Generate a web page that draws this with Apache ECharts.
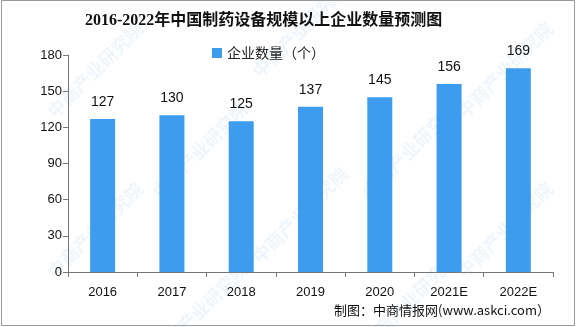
<!DOCTYPE html>
<html>
<head>
<meta charset="utf-8">
<script src="https://cdn.jsdelivr.net/npm/echarts@6/dist/echarts.min.js"></script>
<style>
  html, body { margin: 0; padding: 0; background: #fff; }
  #chart { width: 576px; height: 327px; }
</style>
</head>
<body>
<div id="chart"></div>
<script>
// Number of pharmaceutical-equipment enterprises above designated size, 2016-2022E
const categories = ['2016', '2017', '2018', '2019', '2020', '2021E', '2022E'];
const enterpriseCounts = [127, 130, 125, 137, 145, 156, 169];
const yTicks = [0, 30, 60, 90, 120, 150, 180];

const seriesName = '企业数量（个）';
const titleText = '2016-2022年中国制药设备规模以上企业数量预测图';
const sourceText = '制图：中商情报网(www.askci.com）';
const watermarkText = '中商产业研究院';

// faint diagonal watermark tiles
const watermarkSpots = [
  [95, 70], [300, 30], [505, 70], [200, 150], [410, 150],
  [95, 230], [300, 215], [505, 230], [200, 310], [410, 300]
];
const watermarks = watermarkSpots.map(([x, y]) => ({
  type: 'text',
  x: x, y: y,
  rotation: Math.PI / 4,
  z: -10,
  style: {
    text: watermarkText,
    fill: 'rgba(120,170,215,0.12)',
    font: 'bold 18px "Noto Sans CJK SC"',
    align: 'center',
    verticalAlign: 'middle'
  }
}));

const chart = echarts.init(document.getElementById('chart'), null, { renderer: 'canvas' });

chart.setOption({
  animation: false,
  backgroundColor: '#fff',
  title: {
    text: titleText,
    left: 80,
    top: 8,
    textStyle: {
      fontFamily: '"Liberation Serif", "Noto Sans CJK SC", serif',
      fontWeight: 'bold',
      fontSize: 16,
      color: '#111'
    }
  },
  legend: {
    data: [seriesName],
    top: 41,
    left: 207,
    itemWidth: 10,
    itemHeight: 10,
    itemGap: 4,
    icon: 'rect',
    textStyle: {
      fontFamily: '"Noto Sans CJK SC", sans-serif',
      fontSize: 14,
      color: '#222'
    }
  },
  grid: { left: 68, right: 23, top: 55, bottom: 55, containLabel: false },
  xAxis: {
    type: 'category',
    data: categories,
    boundaryGap: true,
    axisLine: { lineStyle: { color: '#777', width: 1 } },
    axisTick: { show: true, alignWithLabel: false, length: 5, lineStyle: { color: '#777' } },
    axisLabel: {
      margin: 14,
      fontFamily: '"Liberation Sans", "DejaVu Sans", sans-serif',
      fontSize: 13,
      color: '#111'
    }
  },
  yAxis: {
    type: 'value',
    min: yTicks[0],
    max: yTicks[yTicks.length - 1],
    interval: 30,
    axisLine: { show: true, lineStyle: { color: '#777', width: 1 } },
    axisTick: { show: true, length: 5, lineStyle: { color: '#777' } },
    splitLine: { show: false },
    axisLabel: {
      margin: 6,
      fontFamily: '"Liberation Sans", "DejaVu Sans", sans-serif',
      fontSize: 13,
      color: '#111'
    }
  },
  series: [{
    name: seriesName,
    type: 'bar',
    data: enterpriseCounts,
    barWidth: 25,
    itemStyle: { color: '#3d9cee' },
    label: {
      show: true,
      position: 'top',
      distance: 10,
      fontFamily: '"Liberation Sans", "DejaVu Sans", sans-serif',
      fontSize: 14,
      color: '#111'
    }
  }],
  graphic: [
    ...watermarks,
    {
      type: 'rect',
      shape: { x: 1.5, y: 0.5, width: 573, height: 325 },
      style: { fill: null, stroke: '#999', lineWidth: 1 },
      silent: true
    },
    {
      type: 'text',
      right: 26,
      top: 304,
      style: {
        text: sourceText,
        fill: '#111',
        font: '13px "Noto Sans CJK SC", sans-serif'
      }
    }
  ]
});
</script>
</body>
</html>
